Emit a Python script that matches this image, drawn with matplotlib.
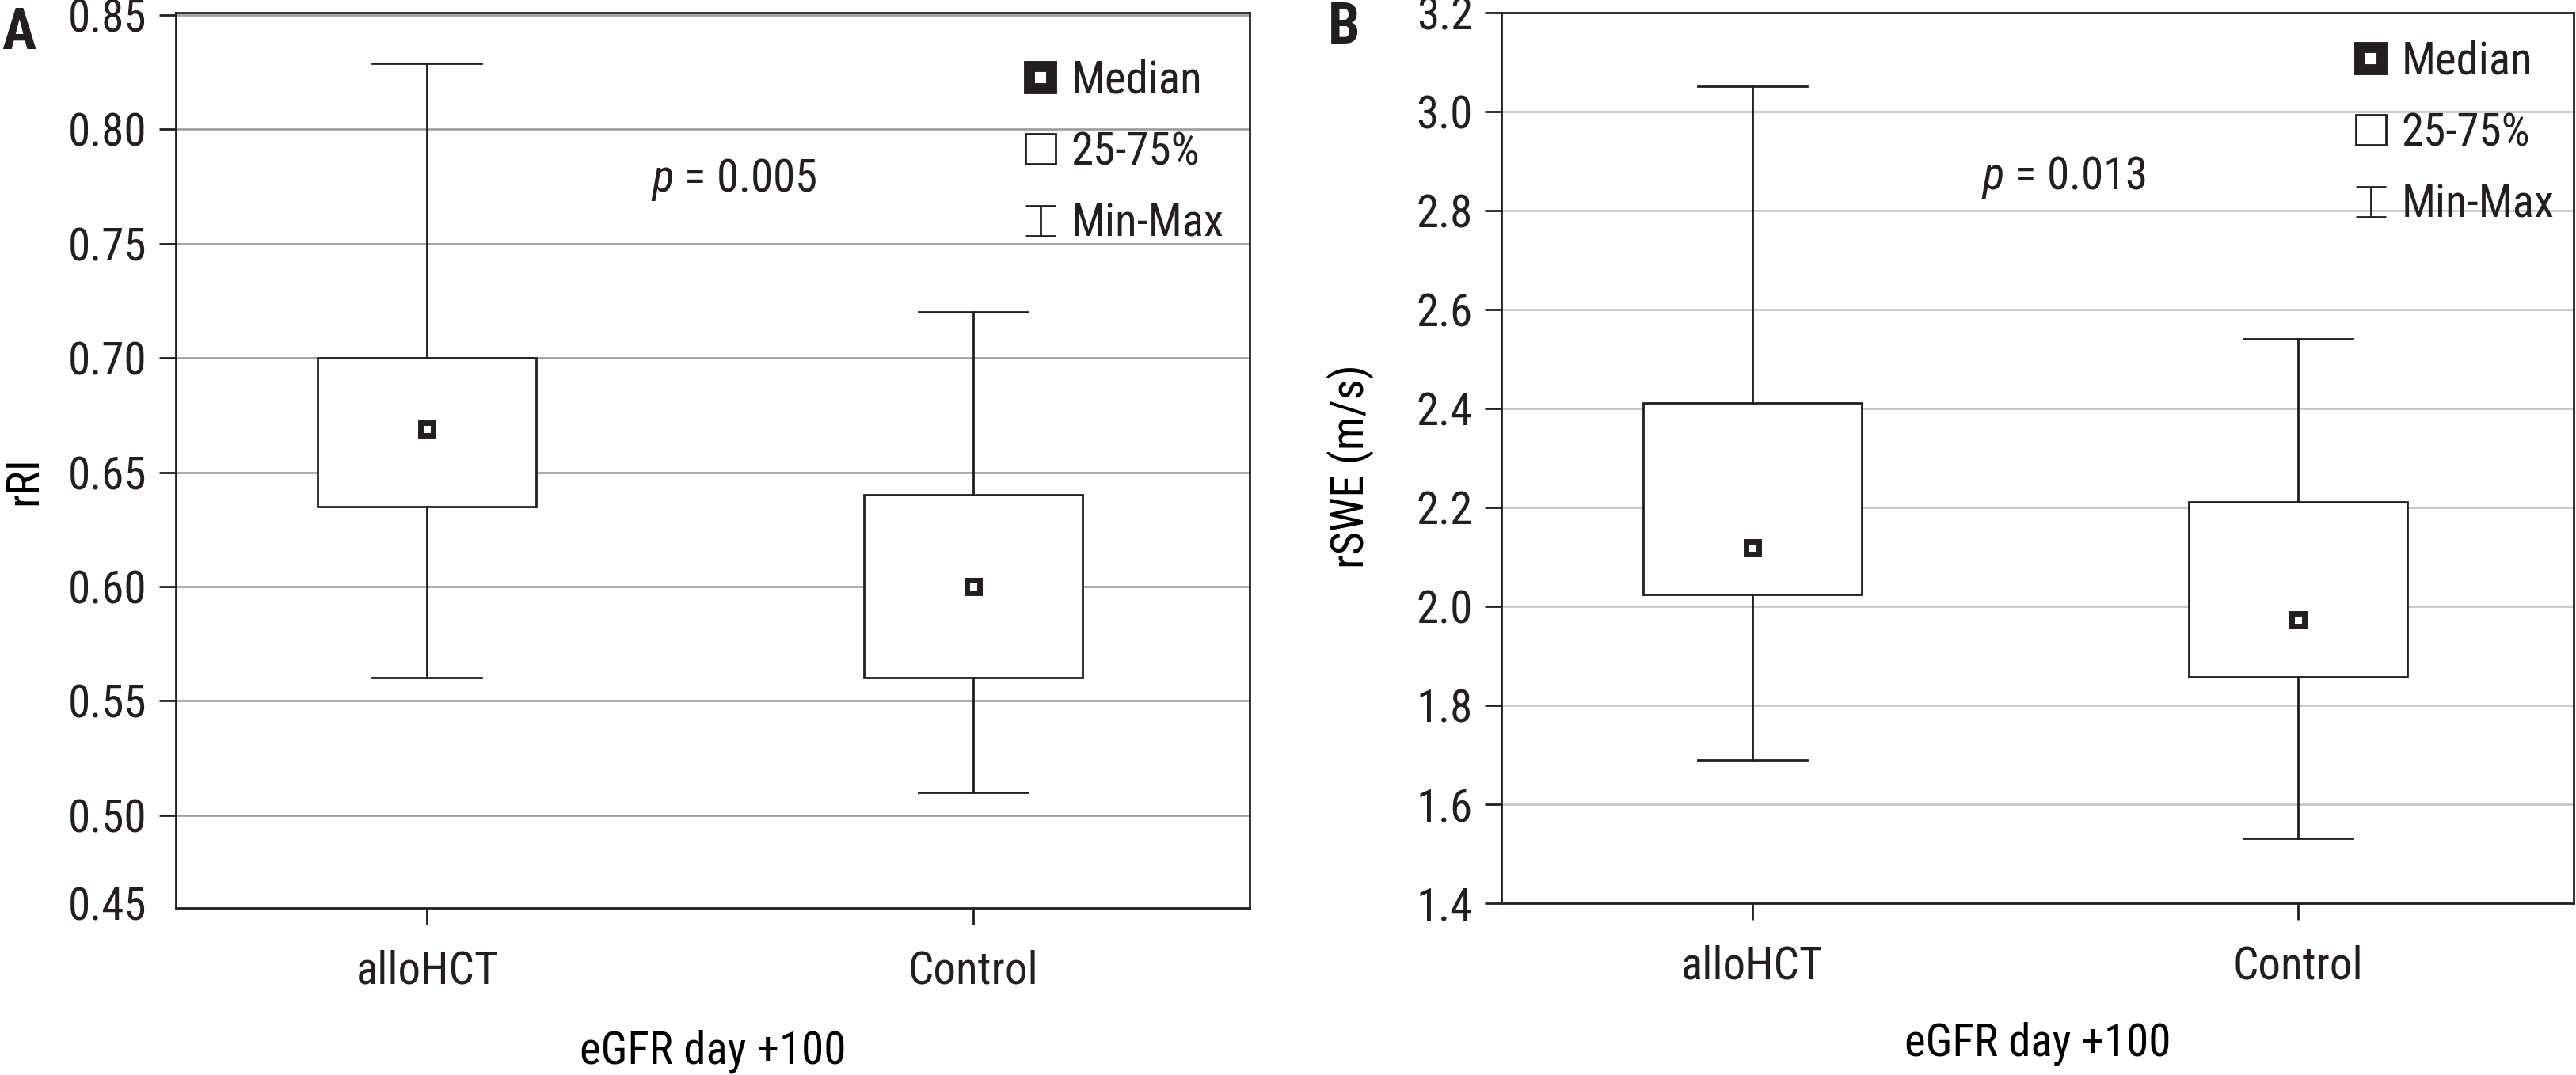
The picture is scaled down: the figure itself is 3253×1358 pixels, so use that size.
import matplotlib
matplotlib.use('Agg')
import matplotlib.pyplot as plt
from matplotlib import font_manager as fm
from matplotlib.lines import Line2D
from matplotlib.path import Path

# values (min, quartiles, median, max per group)
groups = ['alloHCT', 'Control']

rri_min = [0.560, 0.510]
rri_q1 = [0.635, 0.560]
rri_median = [0.669, 0.600]
rri_q3 = [0.700, 0.640]
rri_max = [0.829, 0.720]

swe_min = [1.689, 1.531]
swe_q1 = [2.024, 1.857]
swe_median = [2.119, 1.973]
swe_q3 = [2.412, 2.212]
swe_max = [3.051, 2.541]

rri_ticks = [0.50, 0.55, 0.60, 0.65, 0.70, 0.75, 0.80, 0.85]
swe_ticks = [1.4, 1.6, 1.8, 2.0, 2.2, 2.4, 2.6, 2.8, 3.0, 3.2]

INK = '#231f20'
FS = 41


def pick_narrow_font():
    # the reference uses a condensed face; take whichever narrow one is installed
    fonts = fm.fontManager.ttflist
    for want in ['Liberation Sans Narrow', 'Roboto Condensed', 'Open Sans Condensed',
                 'Noto Sans Condensed', 'DejaVu Sans Condensed']:
        if any(f.name == want for f in fonts):
            return want, 'normal'
    for f in fonts:
        if f.stretch in ('condensed', 'semi-condensed', 'extra-condensed') and f.style == 'normal':
            return f.name, f.stretch
    return 'Liberation Sans', 'normal'


FONT, STRETCH = pick_narrow_font()

plt.rcParams['font.family'] = [FONT, 'DejaVu Sans']
plt.rcParams['font.stretch'] = STRETCH
plt.rcParams['mathtext.fontset'] = 'custom'
plt.rcParams['mathtext.it'] = FONT + ':italic'
plt.rcParams['mathtext.rm'] = FONT
plt.rcParams['text.color'] = INK

# I-beam symbol for the Min-Max legend entry
ibeam = Path([(-1, 1), (1, 1), (0, 1), (0, -1), (-1, -1), (1, -1)],
             [Path.MOVETO, Path.LINETO, Path.MOVETO, Path.LINETO, Path.MOVETO, Path.LINETO])


def draw_panel(ax, mins, q1s, meds, q3s, maxs, ylim, ticks, fmt, ylabel, label_y,
               xlabel_y, p_text, p_xy, legend_anchor, grid_color):
    stats = []
    for g, lo, a, m, b, hi in zip(groups, mins, q1s, meds, q3s, maxs):
        stats.append({'label': g, 'whislo': lo, 'q1': a, 'med': m, 'q3': b, 'whishi': hi})

    ax.bxp(stats, positions=[0, 1], widths=0.4, capwidths=0.2, showfliers=False,
           patch_artist=True,
           boxprops=dict(facecolor='white', edgecolor=INK, linewidth=2),
           whiskerprops=dict(color=INK, linewidth=2),
           capprops=dict(color=INK, linewidth=2),
           medianprops=dict(linestyle='none'))
    ax.plot([0, 1], meds, ls='none', marker='s', ms=11, mfc='white', mec=INK, mew=5, zorder=4)

    ax.set_xlim(-0.46, 1.505)
    ax.set_ylim(*ylim)
    ax.set_yticks(ticks)
    ax.set_yticklabels([fmt.format(t) for t in ticks])
    ax.yaxis.grid(True, color=grid_color, linewidth=1.9)
    ax.set_axisbelow(True)

    for s in ax.spines.values():
        s.set_linewidth(2)
        s.set_color(INK)
    ax.tick_params(direction='out', length=15, width=2, color=INK, labelsize=FS, labelcolor=INK)
    ax.tick_params(axis='y', pad=11)
    ax.tick_params(axis='x', pad=23)

    ax.set_ylabel(ylabel, fontsize=FS)
    ax.yaxis.set_label_coords(-0.141, label_y)
    ax.yaxis.label.set_va('center')
    ax.set_xlabel('eGFR day +100', fontsize=FS)
    ax.xaxis.set_label_coords(0.5, xlabel_y)
    ax.xaxis.label.set_va('center')

    ax.text(p_xy[0], p_xy[1], p_text, fontsize=FS, ha='left', va='center')

    handles = [
        Line2D([], [], ls='none', marker='s', ms=20, mfc='white', mec=INK, mew=10),
        Line2D([], [], ls='none', marker='s', ms=28, mfc='white', mec=INK, mew=2),
        Line2D([], [], ls='none', marker=ibeam, ms=28, mec=INK, mew=2, fillstyle='none'),
    ]
    ax.legend(handles, ['Median', '25-75%', 'Min-Max'], loc='upper left',
              bbox_to_anchor=legend_anchor, frameon=False, fontsize=FS,
              borderpad=0, borderaxespad=0, handlelength=0.75, handletextpad=0.3,
              labelspacing=0.62, numpoints=1)


fig = plt.figure(figsize=(32.53, 13.58), dpi=100)
ax_a = fig.add_axes([0.0682, 0.1554, 0.4168, 0.8328])
ax_b = fig.add_axes([0.5829, 0.1598, 0.4162, 0.8284])

draw_panel(ax_a, rri_min, rri_q1, rri_median, rri_q3, rri_max,
           (0.4594, 0.851), rri_ticks, '{:.2f}', 'rRI', 0.4775, -0.160,
           '$p$ = 0.005', (0.41, 0.778), (0.79, 0.948), '#9d9d9d')
# the reference prints its lowest label on the frame edge
ax_a.annotate('0.45', xy=(0, 0), xycoords='axes fraction', xytext=(-26.5, 0),
              textcoords='offset points', ha='right', va='center', fontsize=FS)

draw_panel(ax_b, swe_min, swe_q1, swe_median, swe_q3, swe_max,
           (1.4, 3.2), swe_ticks, '{:.1f}', 'rSWE (m/s)', 0.491, -0.158,
           '$p$ = 0.013', (0.42, 2.867), (0.795, 0.969), '#c4c4c8')

fig.text(2 / 3253, 1 - 8 / 1358, 'A', fontsize=52, fontweight='bold', ha='left', va='top')
fig.text(1677 / 3253, 1 - 1 / 1358, 'B', fontsize=52, fontweight='bold', ha='left', va='top')

fig.savefig('out.png', dpi=100)
